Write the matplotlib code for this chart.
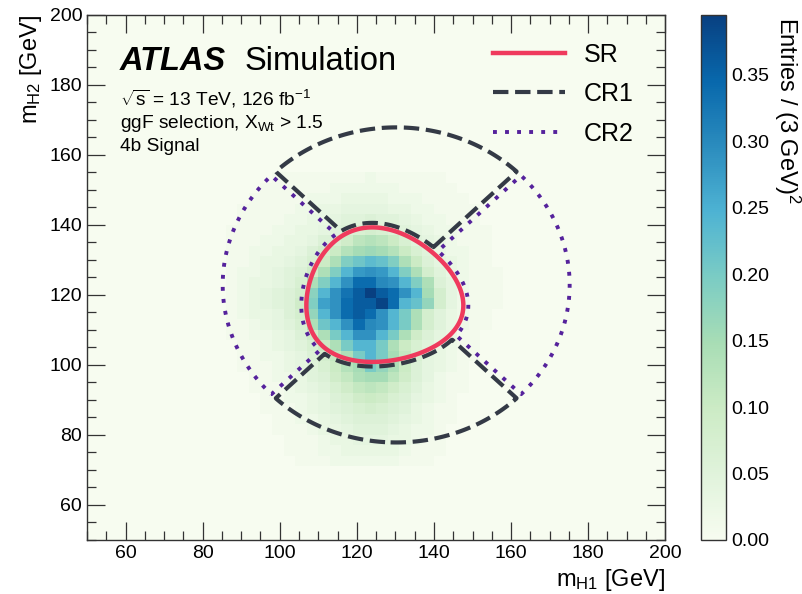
import numpy as np
import matplotlib
matplotlib.use("Agg")
import matplotlib.pyplot as plt
from matplotlib.lines import Line2D

plt.rcParams['font.family'] = ['Liberation Sans', 'DejaVu Sans']
plt.rcParams['mathtext.fontset'] = 'custom'
plt.rcParams['mathtext.rm'] = 'Liberation Sans'
plt.rcParams['mathtext.it'] = 'Liberation Sans:italic'
plt.rcParams['mathtext.bf'] = 'Liberation Sans:bold'

# binning of the 2D histogram (3 GeV bins, 50-200 GeV on both axes)
bin_width = 3
m_low, m_high = 50, 200
# the non-empty part of the histogram: columns start at 86 GeV, rows start at 71 GeV
first_col_edge = 86
first_row_edge = 71

# signal entries per (3 GeV)^2 bin, in units of 0.01, rows from top (152-155 GeV) to bottom (71-74 GeV)
# columns go from m_H1 = 86 GeV to 164 GeV
entries = [
    [0, 0, 0, 0, 1, 1, 1, 1, 1, 1, 1, 1, 2, 1, 1, 1, 1, 1, 1, 0, 0, 0, 0, 0, 0, 0],
    [0, 0, 0, 1, 1, 1, 1, 1, 1, 2, 2, 2, 2, 2, 2, 1, 1, 1, 1, 1, 0, 0, 0, 0, 0, 0],
    [0, 0, 1, 1, 1, 1, 1, 2, 2, 2, 3, 3, 3, 3, 2, 2, 2, 1, 1, 1, 1, 0, 0, 0, 0, 0],
    [0, 1, 1, 1, 1, 1, 2, 2, 3, 3, 4, 4, 4, 4, 3, 3, 2, 2, 1, 1, 1, 1, 0, 0, 0, 0],
    [0, 1, 1, 1, 1, 2, 2, 3, 3, 4, 5, 5, 6, 5, 5, 4, 3, 2, 2, 1, 1, 1, 0, 0, 0, 0],
    [1, 1, 1, 1, 2, 2, 3, 3, 4, 5, 6, 7, 8, 7, 6, 5, 4, 3, 2, 2, 1, 1, 1, 0, 0, 0],
    [1, 1, 1, 2, 2, 3, 3, 4, 6, 7, 9, 12, 13, 12, 10, 7, 5, 4, 3, 2, 1, 1, 1, 0, 0, 0],
    [1, 1, 2, 2, 3, 3, 4, 6, 8, 10, 13, 15, 16, 15, 13, 10, 7, 5, 3, 2, 2, 1, 1, 0, 0, 0],
    [1, 1, 2, 3, 3, 4, 5, 7, 10, 14, 19, 21, 23, 22, 19, 14, 10, 6, 4, 3, 2, 1, 1, 0, 0, 0],
    [1, 2, 2, 3, 4, 5, 6, 9, 14, 19, 24, 28, 29, 28, 24, 19, 14, 8, 5, 3, 2, 1, 1, 1, 0, 0],
    [1, 2, 3, 3, 4, 5, 7, 14, 19, 24, 29, 34, 34, 30, 29, 24, 19, 14, 6, 4, 2, 1, 1, 1, 0, 0],
    [1, 2, 3, 4, 5, 6, 8, 18, 24, 29, 33, 36, 39.5, 36, 34, 29, 24, 15, 8, 4, 2, 1, 1, 1, 0, 0],
    [1, 2, 3, 4, 5, 6, 9, 19, 27, 29, 34, 36, 36, 39, 34, 24, 22, 17, 8, 4, 2, 1, 1, 1, 0, 0],
    [1, 2, 3, 3, 4, 6, 8, 17, 24, 29, 34, 36, 34, 29, 24, 20, 14, 8, 5, 3, 2, 1, 1, 0, 0, 0],
    [1, 1, 2, 3, 4, 5, 7, 14, 21, 24, 29, 34, 30, 29, 24, 20, 14, 8, 5, 3, 2, 1, 1, 0, 0, 0],
    [1, 1, 2, 2, 3, 4, 6, 9, 14, 20, 24, 29, 29, 24, 20, 14, 9, 6, 4, 3, 1, 1, 0, 0, 0, 0],
    [0, 1, 1, 2, 3, 4, 5, 7, 10, 14, 20, 24, 24, 20, 14, 10, 7, 5, 3, 2, 1, 1, 0, 0, 0, 0],
    [0, 1, 1, 2, 2, 3, 4, 6, 8, 11, 14, 20, 24, 20, 15, 11, 7, 4, 3, 2, 1, 1, 0, 0, 0, 0],
    [0, 1, 1, 1, 2, 3, 4, 5, 7, 10, 13, 15, 20, 17, 14, 10, 6, 4, 3, 2, 1, 0, 0, 0, 0, 0],
    [0, 0, 1, 1, 2, 2, 3, 5, 6, 9, 11, 14, 15, 15, 12, 9, 6, 4, 2, 1, 1, 0, 0, 0, 0, 0],
    [0, 0, 1, 1, 1, 2, 3, 4, 5, 7, 9, 11, 12, 11, 9, 7, 5, 3, 2, 1, 1, 0, 0, 0, 0, 0],
    [0, 0, 0, 1, 1, 2, 2, 3, 4, 6, 7, 9, 10, 9, 7, 6, 4, 3, 2, 1, 0, 0, 0, 0, 0, 0],
    [0, 0, 0, 1, 1, 1, 2, 3, 4, 5, 6, 7, 8, 7, 6, 5, 3, 2, 1, 1, 0, 0, 0, 0, 0, 0],
    [0, 0, 0, 0, 1, 1, 2, 2, 3, 4, 5, 6, 6, 6, 5, 4, 3, 2, 1, 1, 0, 0, 0, 0, 0, 0],
    [0, 0, 0, 0, 1, 1, 1, 2, 3, 3, 4, 5, 5, 5, 4, 3, 2, 2, 1, 0, 0, 0, 0, 0, 0, 0],
    [0, 0, 0, 0, 0, 1, 1, 1, 2, 3, 3, 4, 4, 4, 3, 3, 2, 1, 1, 0, 0, 0, 0, 0, 0, 0],
    [0, 0, 0, 0, 0, 1, 1, 1, 2, 2, 3, 3, 3, 3, 3, 2, 1, 1, 1, 0, 0, 0, 0, 0, 0, 0],
    [0, 0, 0, 0, 0, 0, 1, 1, 1, 2, 2, 2, 2, 2, 2, 1, 1, 1, 0, 0, 0, 0, 0, 0, 0, 0],
]

# region definitions (GeV)
sr_m1, sr_m2 = 124, 117   # signal region centre
sr_cut = 1.6              # X_HH < 1.6
cr_scale = 1.05           # control region centre = 1.05 * SR centre
cr_radius = 45

colorbar_max = 0.395

# ---- build the histogram -------------------------------------------------
edges = np.arange(m_low, m_high + bin_width, bin_width)
nbins = len(edges) - 1
hist = np.zeros((nbins, nbins))
block = np.array(entries, dtype=float)[::-1] / 100.0
r0 = (first_row_edge - m_low) // bin_width
c0 = (first_col_edge - m_low) // bin_width
hist[r0:r0 + block.shape[0], c0:c0 + block.shape[1]] = block

fig = plt.figure(figsize=(8.02, 5.94), dpi=100)
ax = fig.add_axes([0.1085, 0.091, 0.721, 0.884])
cax = fig.add_axes([0.874, 0.091, 0.031, 0.884])

mesh = ax.pcolormesh(edges, edges, hist, cmap='GnBu', vmin=0, vmax=colorbar_max)

# ---- region outlines ------------------------------------------------------
grid = np.linspace(m_low, m_high, 1201)
M1, M2 = np.meshgrid(grid, grid)
xhh = np.sqrt(((M1 - sr_m1) / (0.1 * M1)) ** 2 + ((M2 - sr_m2) / (0.1 * M2)) ** 2)
g2, g1 = np.gradient(xhh, grid, grid)
sr_dist = (xhh - sr_cut) / np.hypot(g1, g2)   # approx distance to SR edge in GeV
dx = M1 - cr_scale * sr_m1
dy = M2 - cr_scale * sr_m2
r = np.hypot(dx, dy)
quad = (np.abs(dy) - np.abs(dx)) / np.sqrt(2)
cr1 = np.minimum.reduce([cr_radius - r, sr_dist - 1.3, quad - 0.8])
cr2 = np.minimum.reduce([cr_radius - r, sr_dist - 1.3, -quad - 0.8])

sr_col, cr1_col, cr2_col = '#ef3a5d', '#343a46', '#55229c'
cr2_style = (0, (1, 2.1))
ax.contour(M1, M2, cr1, levels=[0], colors=cr1_col, linewidths=3, linestyles='dashed')
ax.contour(M1, M2, cr2, levels=[0], colors=cr2_col, linewidths=2.8, linestyles=[cr2_style])
ax.contour(M1, M2, xhh, levels=[sr_cut], colors=sr_col, linewidths=3.2)

# ---- axes styling ------------------------------------------------------
ax.set_xlim(m_low, m_high)
ax.set_ylim(m_low, m_high)
ax.set_xticks(np.arange(60, 201, 20))
ax.set_yticks(np.arange(60, 201, 20))
ax.set_xticks(np.arange(50, 201, 5), minor=True)
ax.set_yticks(np.arange(50, 201, 5), minor=True)
ax.tick_params(which='both', direction='in', top=True, right=True, labelsize=14, color='#333333')
ax.tick_params(which='major', length=13, width=0.9)
ax.tick_params(which='minor', length=6.5, width=0.9)
for s in ax.spines.values():
    s.set_color('#333333')
    s.set_linewidth(1.0)
ax.set_xlabel('m$_{\\mathrm{H1}}$ [GeV]', loc='right', fontsize=17)
ax.set_ylabel('m$_{\\mathrm{H2}}$ [GeV]', loc='top', fontsize=17)

# ---- ATLAS label ------------------------------------------------------
ax.text(0.057, 0.895, 'ATLAS', transform=ax.transAxes, fontsize=23.5, fontweight='bold',
        fontstyle='italic', va='baseline')
ax.text(0.272, 0.895, 'Simulation', transform=ax.transAxes, fontsize=23.5, va='baseline')
ax.text(0.057, 0.828, '$\\sqrt{\\mathrm{s}}$ = 13 TeV, 126 fb$^{-1}$', transform=ax.transAxes,
        fontsize=13.8, va='baseline')
ax.text(0.057, 0.785, 'ggF selection, X$_{\\mathrm{Wt}}$ > 1.5', transform=ax.transAxes,
        fontsize=13.8, va='baseline')
ax.text(0.057, 0.740, '4b Signal', transform=ax.transAxes, fontsize=13.8, va='baseline')

# ---- legend ------------------------------------------------------
handles = [Line2D([], [], color=sr_col, lw=3.2),
           Line2D([], [], color=cr1_col, lw=3, ls='dashed'),
           Line2D([], [], color=cr2_col, lw=2.8, ls=cr2_style)]
ax.legend(handles, ['SR', 'CR1', 'CR2'], loc='upper right', bbox_to_anchor=(0.985, 0.99),
          frameon=False, fontsize=18, handlelength=2.9, handletextpad=0.75, labelspacing=0.62)

# ---- colorbar ------------------------------------------------------
cbar = fig.colorbar(mesh, cax=cax)
cbar.set_ticks(np.arange(0, 0.36, 0.05))
cbar.ax.set_yticklabels(['%.2f' % t for t in np.arange(0, 0.36, 0.05)])
cbar.ax.tick_params(length=0, labelsize=14, pad=4)
cbar.outline.set_edgecolor('#333333')
cbar.outline.set_linewidth(1.0)
fig.text(0.982, 0.972, 'Entries / (3 GeV)$^2$', rotation=270, ha='center', va='top', fontsize=17)

fig.savefig('out.png', dpi=100)
